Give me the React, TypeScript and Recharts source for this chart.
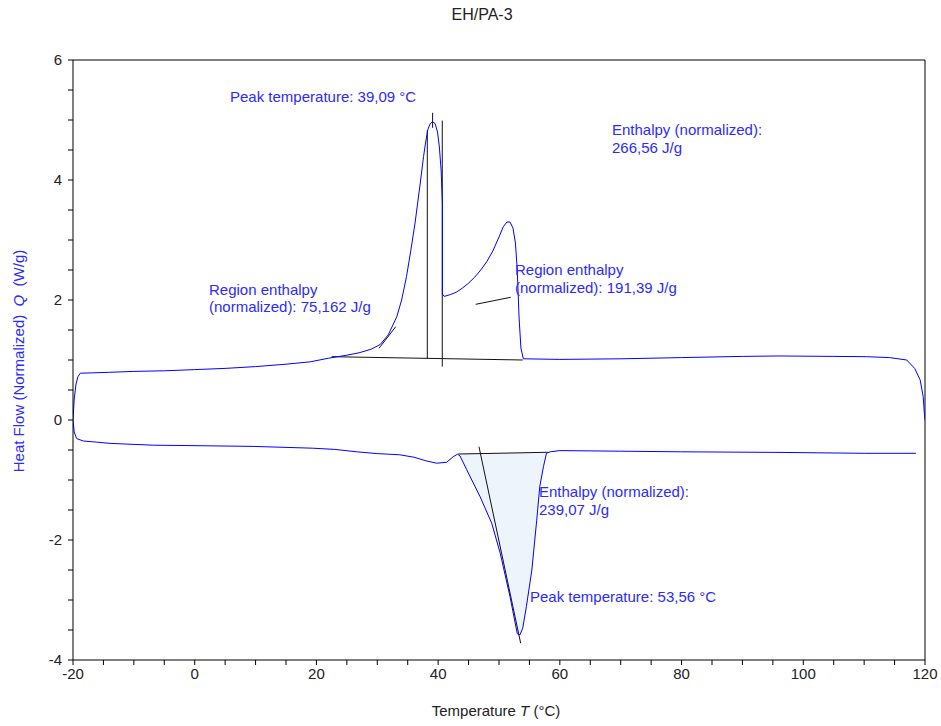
import React from 'react';
import { ComposedChart, Line, Area, XAxis, YAxis, ReferenceLine, ReferenceDot } from 'recharts';

// heating run (upper curve)
const heatT = [-20, -19.8, -19.5, -19.2, -18.8, -17, -14, -10, -5, 0, 5, 10, 15, 19, 22, 25, 27, 29, 30.5, 31.8, 33.2, 34, 34.8, 35.5, 36.2, 37, 37.6, 37.9, 38.3, 38.7, 39.1, 39.5, 39.9, 40.2, 40.5, 40.7, 40.7, 41, 42, 43, 44, 45, 46, 47, 48, 49, 50, 50.7, 51.3, 51.8, 52.3, 52.7, 53, 53.3, 53.6, 54, 60, 70, 80, 90, 96, 105, 110.4, 114.2, 117, 118.3, 119.2, 119.7, 119.9, 120];
const heatQ = [0, 0.35, 0.6, 0.72, 0.78, 0.785, 0.795, 0.81, 0.82, 0.84, 0.86, 0.89, 0.93, 0.97, 1.03, 1.08, 1.12, 1.18, 1.26, 1.42, 1.72, 2.0, 2.39, 2.82, 3.28, 3.9, 4.39, 4.6, 4.84, 4.94, 4.97, 4.94, 4.8, 4.55, 4.15, 3.6, 2.1, 2.06, 2.09, 2.13, 2.2, 2.28, 2.38, 2.5, 2.64, 2.82, 3.05, 3.22, 3.3, 3.3, 3.2, 2.95, 2.5, 1.7, 1.2, 1.02, 1.01, 1.02, 1.04, 1.06, 1.067, 1.06, 1.055, 1.04, 1.0, 0.86, 0.67, 0.39, 0.1, 0];

// cooling run (lower curve)
const coolT = [-20, -19.8, -19.4, -18.3, -16, -13.9, -6.8, 2, 9.6, 19.4, 23, 26.6, 30, 33.7, 36, 38, 39.75, 41.4, 42.5, 43.2, 43.6, 44.7, 46.9, 48.8, 50.2, 51.8, 53, 53.45, 53.9, 54.5, 55.4, 56.2, 56.7, 57.3, 57.8, 58.4, 60, 70, 80, 96, 110, 118.5];
const coolQ = [0, -0.2, -0.31, -0.35, -0.37, -0.39, -0.42, -0.43, -0.44, -0.47, -0.49, -0.53, -0.56, -0.58, -0.62, -0.68, -0.72, -0.705, -0.61, -0.57, -0.6, -0.83, -1.28, -1.72, -2.22, -2.94, -3.56, -3.58, -3.47, -3.11, -2.5, -1.67, -1.11, -0.78, -0.555, -0.53, -0.51, -0.52, -0.53, -0.54, -0.555, -0.555];

const xTicks = [-20, -15, -10, -5, 0, 5, 10, 15, 20, 25, 30, 35, 40, 45, 50, 55, 60, 65, 70, 75, 80, 85, 90, 95, 100, 105, 110, 115, 120];
const xLabels = [-20, 0, 20, 40, 60, 80, 100, 120];
const yTicks = [-4, -3.5, -3, -2.5, -2, -1.5, -1, -0.5, 0, 0.5, 1, 1.5, 2, 2.5, 3, 3.5, 4, 4.5, 5, 5.5, 6];
const yLabels = [-4, -2, 0, 2, 4, 6];

const heatData = heatT.map((t, i) => ({ t, q: heatQ[i] }));
const coolData = coolT.map((t, i) => ({ t, q: coolQ[i] }));
const peakArea = coolData.filter((d) => d.t >= 43.2 && d.t <= 58.1);

// evaluation lines
const segments = [
  [{ x: 22.5, y: 1.055 }, { x: 53.9, y: 1.0 }],
  [{ x: 38.22, y: 1.03 }, { x: 38.22, y: 4.83 }],
  [{ x: 39.09, y: 5.12 }, { x: 39.09, y: 4.87 }],
  [{ x: 40.68, y: 4.99 }, { x: 40.68, y: 0.89 }],
  [{ x: 30.28, y: 1.195 }, { x: 33.03, y: 1.555 }],
  [{ x: 46.17, y: 1.928 }, { x: 51.92, y: 2.045 }],
  [{ x: 43.31, y: -0.567 }, { x: 58.1, y: -0.538 }],
  [{ x: 46.71, y: -0.445 }, { x: 53.56, y: -3.72 }],
];

const notes = [
  { t: 5.8, q: 5.383, lines: ['Peak temperature: 39,09 °C'] },
  { t: 68.57, q: 4.833, lines: ['Enthalpy (normalized):', '266,56 J/g'] },
  { t: 2.35, q: 2.167, lines: ['Region enthalpy', '(normalized): 75,162 J/g'] },
  { t: 52.63, q: 2.5, lines: ['Region enthalpy', '(normalized): 191,39 J/g'] },
  { t: 56.57, q: -1.2, lines: ['Enthalpy (normalized):', '239,07 J/g'] },
  { t: 55.09, q: -2.95, lines: ['Peak temperature: 53,56 °C'] },
];

const FONT = '"Liberation Sans", Arial, sans-serif';
const BLUE = '#0000ff';
const TEXT_BLUE = '#2b2bff';

const XTick = (props: any) => {
  const { x, y, payload } = props;
  if (!xLabels.includes(payload.value)) return <g />;
  return (
    <text x={x} y={y} dy={12} textAnchor="middle" fill="#222" fontSize={15} fontFamily={FONT}>
      {payload.value}
    </text>
  );
};

const YTick = (props: any) => {
  const { x, y, payload } = props;
  if (!yLabels.includes(payload.value)) return <g />;
  return (
    <text x={x} y={y} dy={5} textAnchor="end" fill="#222" fontSize={15} fontFamily={FONT}>
      {payload.value}
    </text>
  );
};

const noteShape = (lines: string[]) => (props: any) => (
  <text x={props.cx} y={props.cy} fill={TEXT_BLUE} fontSize={15} fontFamily={FONT}>
    {lines.map((l, i) => (
      <tspan key={i} x={props.cx} dy={i === 0 ? 5 : 17.5}>
        {l}
      </tspan>
    ))}
  </text>
);

export default function App() {
  return (
    <div style={{ position: 'relative', width: 941, height: 726, background: '#fff', fontFamily: FONT }}>
      <style>{'body{margin:0}'}</style>
      <div style={{ position: 'absolute', left: 382, width: 200, top: 6, textAlign: 'center', fontSize: 16, color: '#222' }}>
        EH/PA-3
      </div>
      <div style={{ position: 'absolute', left: 346, width: 300, top: 702, textAlign: 'center', fontSize: 15, color: '#222', whiteSpace: 'pre' }}>
        Temperature <i>T</i> (°C)
      </div>
      <div
        style={{
          position: 'absolute', left: 19 - 150, top: 361 - 10, width: 300, height: 20, lineHeight: '20px',
          textAlign: 'center', fontSize: 15, color: TEXT_BLUE, whiteSpace: 'pre', transform: 'rotate(-90deg)',
        }}
      >
        Heat Flow (Normalized)  <i>Q</i>  (W/g)
      </div>
      <ComposedChart width={941} height={726} margin={{ top: 60, right: 16, bottom: 36, left: 0 }}>
        <XAxis
          type="number"
          dataKey="t"
          domain={[-20, 120]}
          ticks={xTicks}
          interval={0}
          allowDataOverflow
          height={30}
          tickSize={5}
          stroke="#000"
          tick={<XTick />}
        />
        <YAxis
          type="number"
          domain={[-4, 6]}
          ticks={yTicks}
          interval={0}
          allowDataOverflow
          width={73}
          tickSize={5}
          tickMargin={6}
          stroke="#000"
          tick={<YTick />}
        />
        <ReferenceLine y={6} stroke="#000" />
        <ReferenceLine x={120} stroke="#000" />
        <Area
          data={peakArea}
          dataKey="q"
          type="linear"
          baseValue={-0.55}
          stroke="none"
          fill="#edf4fc"
          fillOpacity={1}
          isAnimationActive={false}
        />
        {segments.map((s, i) => (
          <ReferenceLine key={i} segment={s} stroke="#111" strokeWidth={1} />
        ))}
        <Line data={heatData} dataKey="q" type="linear" dot={false} stroke={BLUE} strokeWidth={1} isAnimationActive={false} />
        <Line data={coolData} dataKey="q" type="linear" dot={false} stroke={BLUE} strokeWidth={1} isAnimationActive={false} />
        {notes.map((n, i) => (
          <ReferenceDot key={i} x={n.t} y={n.q} r={0} shape={noteShape(n.lines)} />
        ))}
      </ComposedChart>
    </div>
  );
}
